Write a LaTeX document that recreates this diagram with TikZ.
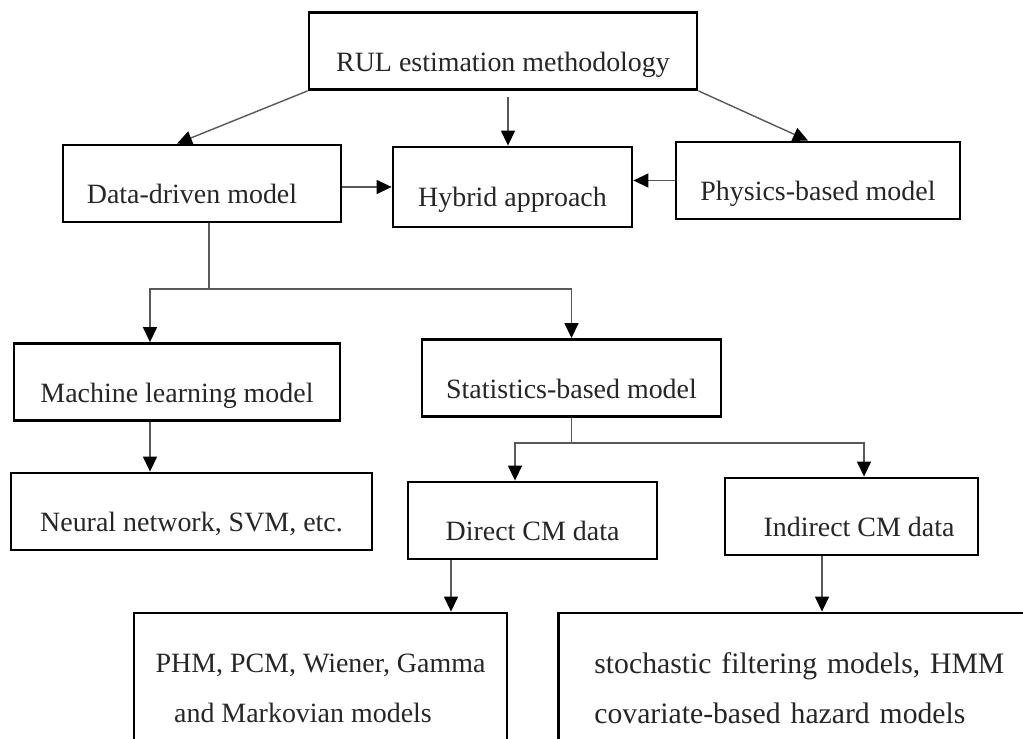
\documentclass[tikz,border=0pt]{standalone}
\usepackage{fontspec}
\setmainfont{Liberation Serif}
\usetikzlibrary{arrows.meta, calc}

\begin{document}
\begin{tikzpicture}[
  font=\fontsize{15.9pt}{10mm}\selectfont,
  box/.style={draw, line width=1.6pt, inner sep=0pt,
              text height=11.8mm, text depth=3.6mm, text=black!85},
  big/.style={draw, line width=1.6pt, inner sep=0pt,
              minimum height=30mm, text=black!85},
  ln/.style={line width=0.8pt, draw=black!65},
  ar/.style={ln, -{Triangle[length=3mm, width=2.8mm, color=black]}}
]
\useasboundingbox (0,0) rectangle (20.46,14.78);
\clip (0,0) rectangle (20.46,14.78);

\node[box, minimum width=77.6mm] at (10.06,13.76) (rul) {RUL estimation methodology};
\node[box, minimum width=55.6mm] at (4.04,11.11)  (data) {Data-driven model\hspace*{4mm}};
\node[box, minimum width=47.8mm, text height=12mm, text depth=4mm]
     at (10.25,11.04) (hyb) {Hybrid approach};
\node[box, minimum width=56.8mm] at (16.36,11.17) (phys) {Physics-based model};
\node[box, minimum width=65.2mm] at (3.54,7.14)   (ml) {Machine learning model};
\node[box, minimum width=59.8mm] at (11.43,7.22)  (stat) {Statistics-based model};
\node[box, minimum width=72.2mm] at (3.83,4.55)   (nn) {Neural network, SVM, etc.};
\node[box, minimum width=49.8mm] at (10.65,4.37)  (direct) {Direct CM data};
\node[box, minimum width=50.6mm] at (17.03,4.45)  (indirect) {\hspace*{3mm}Indirect CM data};
\node[big, minimum width=74.6mm, align=center] at (6.41,1.02) (phm)
     {PHM, PCM, Wiener, Gamma\\and Markovian models\hspace*{7mm}};
\node[big, anchor=west, text width=90mm, inner xsep=7.2mm, align=left,
      font=\fontsize{16.9pt}{10mm}\selectfont] at (11.14,1.02) (stoch)
     {stochastic filtering models, HMM\\covariate-based hazard models};

\coordinate (j1) at (4.18,9.00);
\coordinate (j2) at (11.43,5.92);

% top level
\draw[ar] (rul.south west) -- ([xshift=-5mm]data.north);
\draw[ar] (rul.south east) -- ([xshift=-2mm]phys.north);
\draw[ar] ([xshift=1mm,yshift=-1.2mm]rul.south) -- ([xshift=1mm]rul.south |- hyb.north);
\draw[ar] (data.east |- hyb.west) -- (hyb.west);
\draw[ar] (phys.west) -- (phys.west -| hyb.east);

% data-driven branch
\draw[ln] (data.south -| j1) -- (j1);
\draw[ar] (j1) -| ([xshift=-5.4mm]ml.north);
\draw[ar] (j1) -| (stat.north);
\draw[ar] ([xshift=-5.4mm]ml.south) -- ([xshift=-5.4mm]ml.south |- nn.north);

% statistics branch
\draw[ln] (stat.south) -- (j2);
\draw[ar] (j2) -| ([xshift=-3.5mm]direct.north);
\draw[ar] (j2) -| ([xshift=2.5mm]indirect.north);
\draw[ar] ([xshift=-16.3mm]direct.south) -- ([xshift=-16.3mm]direct.south |- phm.north);
\draw[ar] ([xshift=-5.9mm]indirect.south) -- ([xshift=-5.9mm]indirect.south |- stoch.north);
\end{tikzpicture}
\end{document}
